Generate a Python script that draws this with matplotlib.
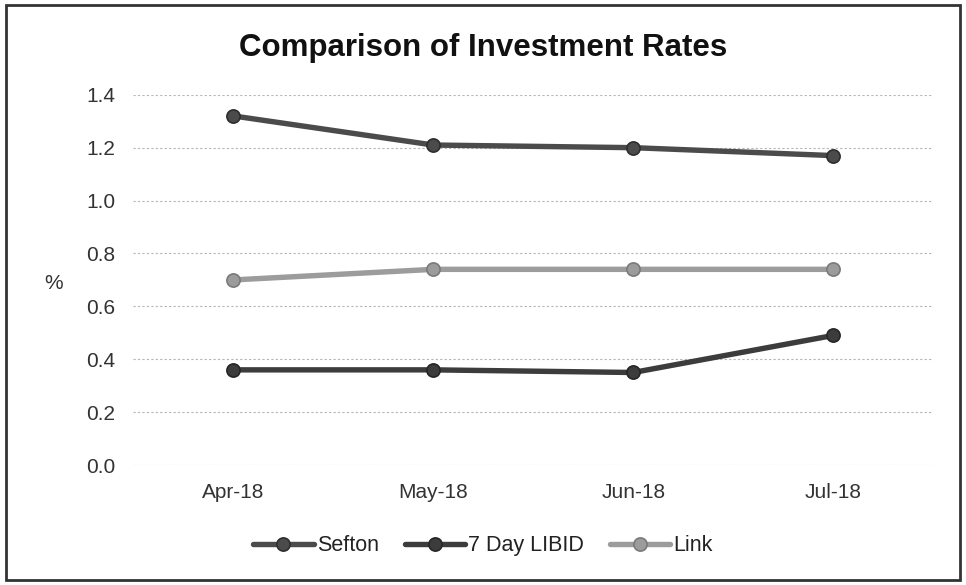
import matplotlib
matplotlib.use("Agg")
import matplotlib.pyplot as plt
from matplotlib.patches import Rectangle

# monthly investment rates (%)
months = ["Apr-18", "May-18", "Jun-18", "Jul-18"]
sefton = [1.32, 1.21, 1.20, 1.17]
libid_7day = [0.36, 0.36, 0.35, 0.49]
link = [0.70, 0.74, 0.74, 0.74]
yticks = [0.0, 0.2, 0.4, 0.6, 0.8, 1.0, 1.2, 1.4]

plt.rcParams["font.family"] = ["Liberation Sans", "DejaVu Sans"]

fig = plt.figure(figsize=(9.66, 5.85), dpi=100)
ax = fig.add_axes([0.138, 0.205, 0.828, 0.633])

x = range(len(months))
series = [
    (sefton, "Sefton", "#4b4b4b", "#2e2e2e"),
    (libid_7day, "7 Day LIBID", "#3c3c3c", "#262626"),
    (link, "Link", "#9c9c9c", "#7a7a7a"),
]
for vals, name, col, edge in series:
    ax.plot(x, vals, color=col, lw=3.9, marker="o", ms=9.5,
            mfc=col, mec=edge, mew=1.2, label=name, solid_capstyle="round")

ax.set_xlim(-0.5, 3.5)
ax.set_ylim(0, 1.4)
ax.set_yticks(yticks)
ax.set_yticklabels([f"{v:.1f}" for v in yticks])
ax.set_xticks(list(x))
ax.set_xticklabels(months)
ax.yaxis.grid(True, color="#b5b5b5", ls=(0, (2, 2)), lw=0.8)
ax.set_axisbelow(True)
for s in ax.spines.values():
    s.set_visible(False)
ax.tick_params(length=0, labelsize=15, colors="#333333")
ax.tick_params(axis="y", pad=13)
ax.tick_params(axis="x", pad=13)
ax.set_ylabel("%", rotation=0, fontsize=15, color="#333333", va="center", ha="center")
ax.yaxis.set_label_coords(-0.1, 0.49)

fig.text(0.5, 0.918, "Comparison of Investment Rates", ha="center", va="center",
         fontsize=22.5, fontweight="bold", color="#111111")

fig.legend(loc="center", bbox_to_anchor=(0.5, 0.067), ncol=3, frameon=False,
           fontsize=15.5, handlelength=2.8, columnspacing=1.2, handletextpad=0.15,
           labelcolor="#222222")

fig.patches.append(Rectangle((0.006, 0.008), 0.988, 0.984, transform=fig.transFigure,
                             fill=False, ec="#333333", lw=2.0))

fig.savefig("out.png", dpi=100)
